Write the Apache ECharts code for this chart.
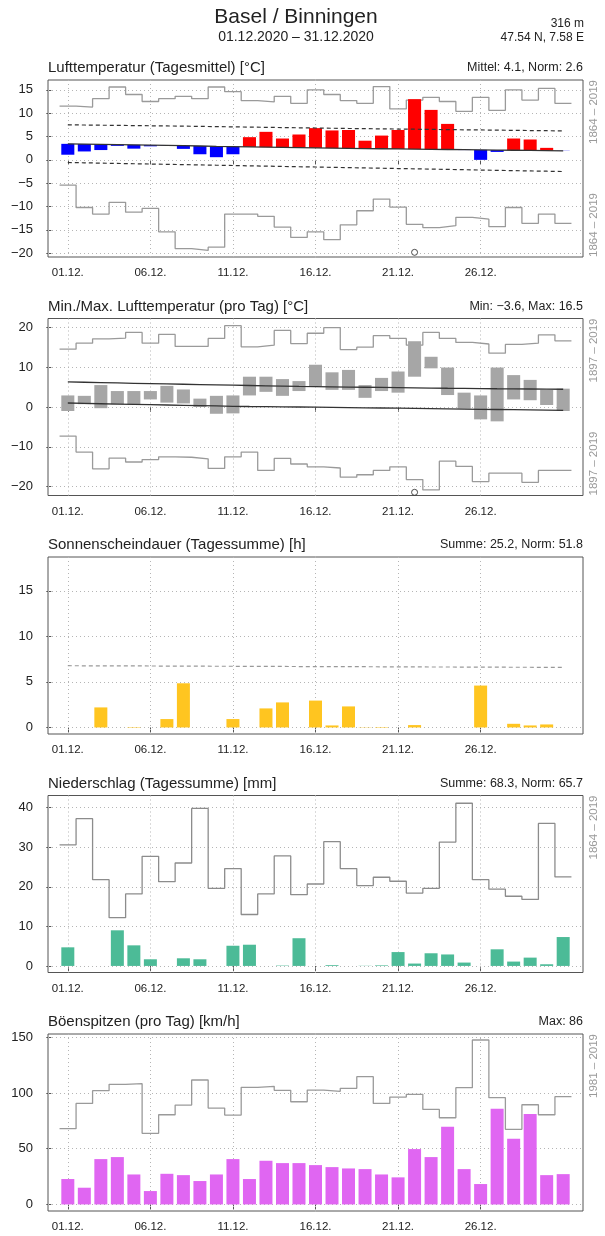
<!DOCTYPE html>
<html><head><meta charset="utf-8">
<script src="https://cdn.jsdelivr.net/npm/echarts@6/dist/echarts.min.js"></script>
<style>html,body{margin:0;padding:0;background:#fff}#c{width:605px;height:1236px}</style>
</head><body><div id="c"></div>
<script>
// ---------- data ----------
const days = [1,2,3,4,5,6,7,8,9,10,11,12,13,14,15,16,17,18,19,20,21,22,23,24,25,26,27,28,29,30,31];
const xTicks = [1,6,11,16,21,26];
const xTickLabels = ['01.12.','06.12.','11.12.','16.12.','21.12.','26.12.'];

// Panel 1: daily mean temperature
const tMean   = [1.1,1.8,2.1,3.0,2.4,2.9,3.0,2.35,1.2,0.57,1.2,4.86,6.0,4.57,5.43,6.8,6.3,6.4,4.1,5.2,6.4,13.0,10.7,7.7,2.1,0.0,1.7,4.57,4.36,2.57,1.9];
const tNorm   = [3.43,3.38,3.33,3.28,3.22,3.16,3.10,3.04,2.97,2.90,2.84,2.78,2.72,2.66,2.61,2.56,2.51,2.47,2.42,2.38,2.34,2.30,2.26,2.22,2.18,2.14,2.10,2.06,2.02,1.98,1.94];
const tNormHi = [7.50,7.46,7.42,7.38,7.34,7.30,7.26,7.22,7.17,7.12,7.07,7.02,6.97,6.92,6.87,6.82,6.77,6.72,6.68,6.64,6.60,6.56,6.52,6.48,6.44,6.40,6.36,6.32,6.28,6.24,6.20];
const tNormLo = [-0.57,-0.63,-0.70,-0.76,-0.83,-0.89,-0.96,-1.02,-1.08,-1.15,-1.21,-1.28,-1.34,-1.41,-1.47,-1.53,-1.60,-1.66,-1.73,-1.79,-1.86,-1.92,-1.98,-2.05,-2.11,-2.18,-2.24,-2.31,-2.37,-2.43,-2.50];
const tRecMax = [11.5,11.3,13.1,15.6,14.0,12.5,13.1,13.6,13.1,15.6,14.6,12.7,12.4,13.6,12.1,15.0,14.0,12.7,12.1,15.7,10.9,12.8,13.4,12.5,10.4,13.4,10.6,15.0,12.8,15.3,12.1];
const tRecMin = [-5.4,-10.2,-11.6,-9.1,-11.2,-10.4,-15.4,-19.0,-19.4,-18.7,-11.6,-11.6,-12.1,-14.4,-16.6,-15.4,-17.1,-13.9,-10.9,-8.4,-10.1,-13.8,-14.5,-14.1,-12.3,-12.7,-14.3,-10.2,-13.6,-11.6,-13.6];
const tMarker = [[22,-19.8]];

// Panel 2: daily min / max temperature
const txMax     = [2.9,2.8,5.5,4.0,4.0,4.0,5.3,4.4,2.1,2.8,2.9,7.6,7.6,7.0,6.5,10.6,8.7,9.3,5.5,7.3,8.9,16.5,12.6,9.9,3.6,2.9,9.9,8.0,6.8,4.3,4.6];
const txMin     = [-1.0,0.7,-0.3,0.7,0.7,1.9,1.1,0.9,0.0,-1.7,-1.6,2.9,3.8,2.8,4.0,5.1,4.3,4.3,2.3,4.0,3.6,7.6,9.7,3.0,-0.4,-3.1,-3.6,1.9,1.7,0.5,-1.0];
const txNormMax = [6.30,6.21,6.12,6.03,5.95,5.87,5.79,5.71,5.63,5.55,5.47,5.39,5.31,5.23,5.15,5.10,5.05,5.00,4.95,4.90,4.85,4.80,4.75,4.70,4.66,4.62,4.58,4.55,4.52,4.49,4.45];
const txNormMin = [1.00,0.91,0.82,0.74,0.66,0.58,0.50,0.42,0.34,0.26,0.18,0.13,0.09,0.05,0.00,-0.05,-0.10,-0.15,-0.20,-0.25,-0.30,-0.35,-0.40,-0.46,-0.52,-0.58,-0.63,-0.68,-0.73,-0.79,-0.84];
const txRecMax  = [14.5,16.0,17.1,17.3,18.7,16.0,18.2,15.2,15.2,17.2,20.4,15.1,15.5,19.2,15.9,18.5,19.9,14.4,15.0,17.9,17.2,15.5,18.7,17.2,16.2,15.8,13.5,15.7,16.0,18.1,16.6];
const txRecMin  = [-7.3,-11.3,-15.5,-12.8,-13.8,-13.2,-12.5,-12.6,-13.0,-15.4,-12.5,-11.3,-15.9,-12.9,-14.3,-15.0,-15.3,-17.6,-17.0,-15.9,-15.0,-18.2,-20.8,-13.6,-14.9,-18.7,-16.6,-16.6,-18.9,-15.9,-15.9];
const txMarker  = [[22,-21.4]];

// Panel 3: sunshine duration
const sun     = [0,0,2.2,0,0.05,0,0.92,4.85,0,0,0.92,0,2.09,2.75,0,2.95,0.22,2.31,0.03,0.05,0,0.26,0,0,0,4.6,0,0.4,0.22,0.33,0];
const sunNorm = [6.78,6.77,6.77,6.76,6.76,6.75,6.74,6.74,6.73,6.72,6.72,6.71,6.71,6.70,6.69,6.69,6.68,6.67,6.67,6.66,6.66,6.65,6.64,6.64,6.63,6.63,6.62,6.61,6.61,6.60,6.60];

// Panel 4: precipitation
const rain    = [4.7,0,0,9.0,5.2,1.68,0,1.93,1.68,0,5.1,5.36,0,0.1,7.0,0,0.2,0,0.05,0.15,3.5,0.6,3.2,2.9,0.85,0,4.2,1.1,2.1,0.42,7.3];
const rainRec = [30.6,37.2,21.8,12.2,18.2,27.7,21.3,26.0,39.8,19.6,24.6,13.0,18.2,27.8,18.0,20.7,31.4,24.6,20.3,22.4,21.4,18.4,19.6,31.3,41.1,21.8,19.4,17.6,16.8,36.0,22.5];

// Panel 5: gusts
const gust    = [22.8,15.0,40.7,42.5,26.9,12.0,27.5,26.3,21.0,26.9,40.7,22.8,39.2,37.1,37.1,35.3,33.5,32.3,31.7,26.9,24.3,49.7,42.5,69.8,31.7,18.3,85.9,59.0,81.1,26.3,27.2];
const gustRec = [68.0,90.7,102.1,107.8,108.4,63.8,80.5,89.2,111.7,86.5,80.2,105.1,106.0,102.4,92.2,102.7,101.5,104.2,114.7,90.7,96.4,98.8,85.3,77.8,104.8,147.6,95.8,67.4,89.5,80.5,96.7];

// axes
const yRanges = [[-20.8,17.1],[-22.2,22.2],[-0.72,18.72],[-1.66,43.06],[-5.9,153]];
const yTicks  = [[-20,-15,-10,-5,0,5,10,15],[-20,-10,0,10,20],[0,5,10,15],[0,10,20,30,40],[0,50,100,150]];
const panelTitles = ['Lufttemperatur (Tagesmittel) [°C]','Min./Max. Lufttemperatur (pro Tag) [°C]','Sonnenscheindauer (Tagessumme) [h]','Niederschlag (Tagessumme) [mm]','Böenspitzen (pro Tag) [km/h]'];
const panelStats  = ['Mittel: 4.1, Norm: 2.6','Min: \u22123.6, Max: 16.5','Summe: 25.2, Norm: 51.8','Summe: 68.3, Norm: 65.7','Max: 86'];
const periodTop    = ['1864 \u2013 2019','1897 \u2013 2019',null,'1864 \u2013 2019','1981 \u2013 2019'];
const periodBottom = ['1864 \u2013 2019','1897 \u2013 2019',null,null,null];

// ---------- layout ----------
const FONT = '"Liberation Sans", Arial, Helvetica, sans-serif';
const TOPS = [80, 318.5, 557, 795.5, 1034];
const H = 177, LEFT = 48, RIGHT = 583;

const grids = [], xAxes = [], yAxes = [], series = [], graphics = [];
const fmtNum = v => String(v).replace('-', '\u2212');

TOPS.forEach((top, i) => {
  grids.push({left: LEFT, top: top, width: RIGHT - LEFT, height: H, show: true,
    borderColor: '#555', borderWidth: 1, backgroundColor: 'transparent', containLabel: false});
  xAxes.push({type: 'value', gridIndex: i, min: -0.2, max: 32.2,
    axisLine: {show: false}, splitLine: {show: false},
    axisTick: {show: true, length: 5, lineStyle: {color: '#555'}, customValues: xTicks},
    axisLabel: {show: true, customValues: xTicks, margin: 10, fontSize: 11.5, fontFamily: FONT, color: '#222',
      formatter: v => xTickLabels[xTicks.indexOf(v)] || ''}});
  yAxes.push({type: 'value', gridIndex: i, min: yRanges[i][0], max: yRanges[i][1],
    axisLine: {show: false}, splitLine: {show: false},
    axisTick: {show: true, length: 5, lineStyle: {color: '#555'}, customValues: yTicks[i]},
    axisLabel: {show: true, customValues: yTicks[i], margin: 15, fontSize: 13, fontFamily: FONT, color: '#222',
      formatter: fmtNum}});
  // title & stats
  graphics.push({type: 'text', x: LEFT, y: top - 12, style: {text: panelTitles[i], font: '15px ' + FONT, fill: '#222',
    align: 'left', verticalAlign: 'middle', textAlign: 'left', textVerticalAlign: 'middle'}});
  graphics.push({type: 'text', x: RIGHT, y: top - 12, style: {text: panelStats[i], font: '12.5px ' + FONT, fill: '#222',
    align: 'right', verticalAlign: 'middle', textAlign: 'right', textVerticalAlign: 'middle'}});
  if (periodTop[i]) graphics.push({type: 'text', x: 594, y: top, rotation: Math.PI / 2,
    style: {text: periodTop[i], font: '11.5px ' + FONT, fill: '#999', align: 'right', verticalAlign: 'middle', textAlign: 'right', textVerticalAlign: 'middle'}});
  if (periodBottom[i]) graphics.push({type: 'text', x: 594, y: top + H, rotation: Math.PI / 2,
    style: {text: periodBottom[i], font: '11.5px ' + FONT, fill: '#999', align: 'left', verticalAlign: 'middle', textAlign: 'left', textVerticalAlign: 'middle'}});
});

// header
graphics.push({type: 'text', x: 296, y: 17, style: {text: 'Basel / Binningen', font: '21px ' + FONT, fill: '#222', align: 'center', verticalAlign: 'middle', textAlign: 'center', textVerticalAlign: 'middle'}});
graphics.push({type: 'text', x: 296, y: 37, style: {text: '01.12.2020 \u2013 31.12.2020', font: '14px ' + FONT, fill: '#222', align: 'center', verticalAlign: 'middle', textAlign: 'center', textVerticalAlign: 'middle'}});
graphics.push({type: 'text', x: 584, y: 24, style: {text: '316 m', font: '12px ' + FONT, fill: '#222', align: 'right', verticalAlign: 'middle', textAlign: 'right', textVerticalAlign: 'middle'}});
graphics.push({type: 'text', x: 584, y: 38, style: {text: '47.54 N, 7.58 E', font: '12px ' + FONT, fill: '#222', align: 'right', verticalAlign: 'middle', textAlign: 'right', textVerticalAlign: 'middle'}});

// ---------- helpers ----------
const stepPts = vals => { const o = []; vals.forEach((v, k) => { o.push([days[k] - 0.5, v]); o.push([days[k] + 0.5, v]); }); return o; };
const pairs = vals => vals.map((v, k) => [days[k], v]);
const gridLines = i => ({
  z: 1, silent: true, animation: false, symbol: ['none', 'none'], label: {show: false},
  lineStyle: {type: [1, 3], color: '#b5b5b5', width: 1},
  emphasis: {disabled: true},
  data: yTicks[i].map(v => ({yAxis: v})).concat(xTicks.map(v => ({xAxis: v})))
});
const lineS = (i, data, color, width, type, extra) => Object.assign({
  type: 'line', xAxisIndex: i, yAxisIndex: i, data: data, symbol: 'none', showSymbol: false,
  lineStyle: {color: color, width: width, type: type || 'solid'}, silent: true, animation: false, z: 3
}, extra || {});
const STEP = '#9a9a9a';

// Panel 1
series.push(lineS(0, stepPts(tRecMax), STEP, 1.3, 'solid', {markLine: gridLines(0)}));
series.push(lineS(0, stepPts(tRecMin), STEP, 1.3));
series.push({type: 'custom', xAxisIndex: 0, yAxisIndex: 0, z: 4, silent: true, animation: false,
  data: days.map((d, k) => [d, tMean[k], tNorm[k]]), encode: {x: 0, y: 1},
  renderItem: (p, api) => {
    const a = api.coord([api.value(0), api.value(1)]), b = api.coord([api.value(0), api.value(2)]);
    const w = api.size([0.79, 0])[0];
    return {type: 'rect', shape: {x: a[0] - w / 2, y: Math.min(a[1], b[1]), width: w, height: Math.abs(a[1] - b[1])},
      style: {fill: api.value(1) >= api.value(2) ? '#ff0000' : '#0000ff'}};
  }});
series.push(lineS(0, pairs(tNorm), '#333', 1.3, 'solid', {z: 5}));
series.push(lineS(0, pairs(tNormHi), '#333', 1.2, [4, 3], {z: 5}));
series.push(lineS(0, pairs(tNormLo), '#333', 1.2, [4, 3], {z: 5}));
series.push({type: 'scatter', xAxisIndex: 0, yAxisIndex: 0, data: tMarker, symbol: 'circle', symbolSize: 6,
  itemStyle: {color: '#fff', borderColor: '#222', borderWidth: 1}, silent: true, animation: false, z: 6});

// Panel 2
series.push(lineS(1, stepPts(txRecMax), STEP, 1.3, 'solid', {markLine: gridLines(1)}));
series.push(lineS(1, stepPts(txRecMin), STEP, 1.3));
series.push({type: 'custom', xAxisIndex: 1, yAxisIndex: 1, z: 4, silent: true, animation: false,
  data: days.map((d, k) => [d, txMin[k], txMax[k]]), encode: {x: 0, y: 1},
  renderItem: (p, api) => {
    const a = api.coord([api.value(0), api.value(1)]), b = api.coord([api.value(0), api.value(2)]);
    const w = api.size([0.79, 0])[0];
    return {type: 'rect', shape: {x: a[0] - w / 2, y: Math.min(a[1], b[1]), width: w, height: Math.abs(a[1] - b[1])},
      style: {fill: '#a6a6a6'}};
  }});
series.push(lineS(1, pairs(txNormMax), '#333', 1.3, 'solid', {z: 5}));
series.push(lineS(1, pairs(txNormMin), '#333', 1.3, 'solid', {z: 5}));
series.push({type: 'scatter', xAxisIndex: 1, yAxisIndex: 1, data: txMarker, symbol: 'circle', symbolSize: 6,
  itemStyle: {color: '#fff', borderColor: '#222', borderWidth: 1}, silent: true, animation: false, z: 6});

// Panel 3
series.push(lineS(2, pairs(sunNorm), '#999', 1.2, [4, 3], {markLine: gridLines(2), z: 5}));
series.push({type: 'bar', xAxisIndex: 2, yAxisIndex: 2, data: pairs(sun), barWidth: 13, z: 4,
  itemStyle: {color: '#ffc520'}, silent: true, animation: false});

// Panel 4
series.push(lineS(3, stepPts(rainRec), '#8c8c8c', 1.3, 'solid', {markLine: gridLines(3)}));
series.push({type: 'bar', xAxisIndex: 3, yAxisIndex: 3, data: pairs(rain), barWidth: 13, z: 4,
  itemStyle: {color: '#4cbb97'}, silent: true, animation: false});

// Panel 5
series.push(lineS(4, stepPts(gustRec), STEP, 1.3, 'solid', {markLine: gridLines(4)}));
series.push({type: 'bar', xAxisIndex: 4, yAxisIndex: 4, data: pairs(gust), barWidth: 13, z: 4,
  itemStyle: {color: '#e066f2'}, silent: true, animation: false});

const chart = echarts.init(document.getElementById('c'), null, {renderer: 'canvas'});
chart.setOption({
  animation: false,
  backgroundColor: '#fff',
  textStyle: {fontFamily: FONT},
  grid: grids, xAxis: xAxes, yAxis: yAxes, series: series,
  graphic: graphics
});
</script></body></html>
